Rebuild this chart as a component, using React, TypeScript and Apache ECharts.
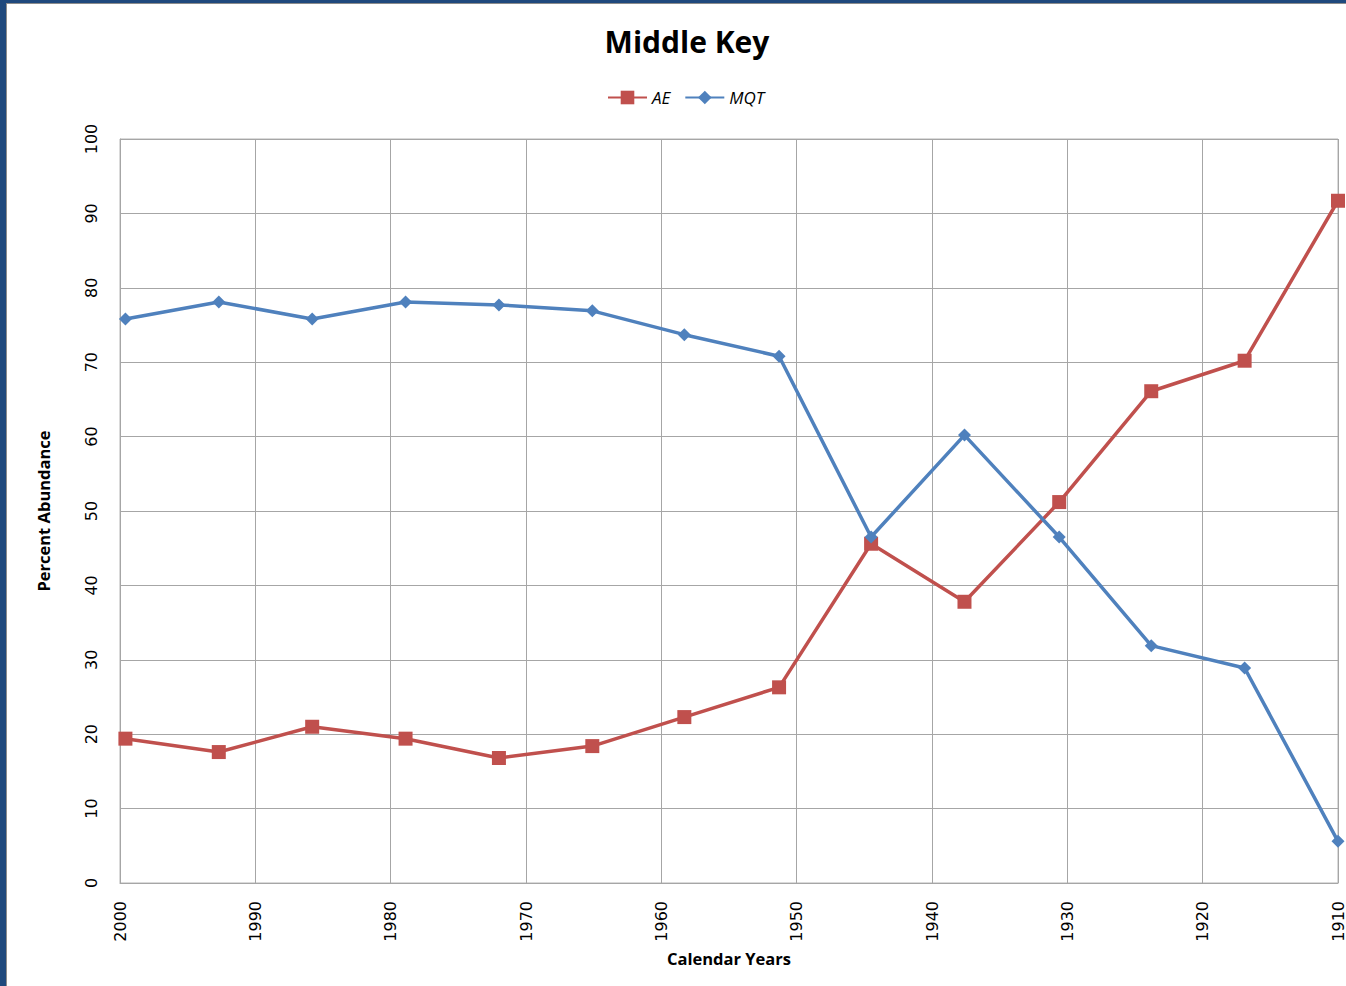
import React, { useEffect, useRef } from "react";
import * as echarts from "echarts";

const years = [1999.6, 1992.7, 1985.8, 1978.9, 1972.0, 1965.1, 1958.3, 1951.3, 1944.5, 1937.6, 1930.6, 1923.8, 1916.9, 1910.0];
const aeValues = [19.4, 17.6, 21.0, 19.4, 16.8, 18.4, 22.3, 26.3, 45.6, 37.8, 51.2, 66.1, 70.2, 91.7];
const mqtValues = [75.8, 78.1, 75.8, 78.1, 77.7, 76.9, 73.7, 70.8, 46.5, 60.2, 46.5, 31.9, 28.9, 5.6];

const seriesNames = ["AE", "MQT"];

export default function App() {
  const ref = useRef<HTMLDivElement>(null);
  useEffect(() => {
    const chart = echarts.init(ref.current!, undefined, { renderer: "svg" });
    const ae = years.map((y, i) => [y, aeValues[i]]);
    const mqt = years.map((y, i) => [y, mqtValues[i]]);
    chart.setOption({
      animation: false,
      backgroundColor: "#ffffff",
      title: {
        text: "Middle Key",
        left: 682,
        top: 21,
        textAlign: "center",
        textStyle: { fontFamily: "Open Sans", fontWeight: "bold", fontSize: 30, color: "#000" },
      },
      legend: {
        data: seriesNames,
        left: 602,
        top: 84,
        itemWidth: 39,
        itemHeight: 17,
        itemGap: 14,
        textStyle: { fontFamily: "Open Sans", fontStyle: "italic", fontSize: 17, color: "#000" },
      },
      grid: {
        left: 120,
        right: 4,
        top: 139,
        bottom: 103,
        show: true,
        borderColor: "#b4b4b4",
        borderWidth: 1,
      },
      xAxis: {
        type: "value",
        inverse: true,
        min: 1910,
        max: 2000,
        interval: 10,
        name: "Calendar Years",
        nameLocation: "middle",
        nameGap: 57,
        nameTextStyle: { fontFamily: "Open Sans", fontWeight: "bold", fontSize: 16.5, color: "#000" },
        axisLine: { show: true, lineStyle: { color: "#a6a6a6" } },
        axisTick: { show: false },
        splitLine: { show: true, lineStyle: { color: "#a6a6a6" } },
        axisLabel: {
          rotate: 90,
          margin: 18,
          fontFamily: "DejaVu Sans",
          fontSize: 16,
          color: "#000",
          showMaxLabel: true,
          showMinLabel: true,
          formatter: (v: number) => String(Math.round(v)),
        },
      },
      yAxis: {
        type: "value",
        min: 0,
        max: 100,
        interval: 10,
        name: "Percent Abundance",
        nameLocation: "middle",
        nameGap: 68,
        nameTextStyle: { fontFamily: "Open Sans", fontWeight: "bold", fontSize: 16.5, color: "#000" },
        axisLine: { show: true, lineStyle: { color: "#a6a6a6" } },
        axisTick: { show: false },
        splitLine: { show: true, lineStyle: { color: "#a6a6a6" } },
        axisLabel: {
          rotate: 90,
          margin: 21,
          align: "center",
          verticalAlign: "bottom",
          fontFamily: "DejaVu Sans",
          fontSize: 16,
          color: "#000",
        },
      },
      series: [
        {
          name: "AE",
          type: "line",
          data: ae,
          color: "#C0504D",
          symbol: "rect",
          symbolSize: 14,
          lineStyle: { width: 3.5, color: "#C0504D" },
          itemStyle: { color: "#C0504D" },
          clip: false,
          z: 2,
        },
        {
          name: "MQT",
          type: "line",
          data: mqt,
          color: "#4F81BD",
          symbol: "diamond",
          symbolSize: 13,
          lineStyle: { width: 3.5, color: "#4F81BD" },
          itemStyle: { color: "#4F81BD" },
          clip: false,
          z: 3,
        },
      ],
    });
    return () => chart.dispose();
  }, []);
  return (
    <div
      style={{
        position: "absolute",
        left: 0,
        top: 0,
        width: 1346,
        height: 986,
        background: "#fff",
        overflow: "hidden",
      }}
    >
      <div ref={ref} style={{ position: "absolute", left: 0, top: 0, width: 1346, height: 986 }} />
      <div style={{ position: "absolute", left: 0, top: 0, width: 1346, height: 3, background: "#1F497D" }} />
      <div style={{ position: "absolute", left: 0, top: 0, width: 6, height: 986, background: "#1F497D" }} />
      <div style={{ position: "absolute", left: 6, top: 3, width: 1340, height: 1, background: "#8c8c8c" }} />
      <div style={{ position: "absolute", left: 6, top: 3, width: 1, height: 983, background: "#8c8c8c" }} />
    </div>
  );
}
